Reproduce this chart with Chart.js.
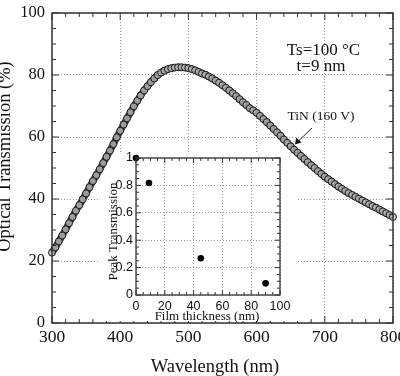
<!DOCTYPE html>
<html><head><meta charset="utf-8">
<script src="https://cdn.jsdelivr.net/npm/chart.js@4.4.1/dist/chart.umd.min.js"></script>
<style>
html,body{margin:0;padding:0;background:#fff;}
#wrap{position:relative;width:400px;height:376px;overflow:hidden;background:#fff;}
#main{position:absolute;left:0;top:0;}
#inset{position:absolute;left:100px;top:150px;}
</style></head><body>
<div id="wrap"><canvas id="main" width="400" height="376"></canvas><canvas id="inset" width="200" height="175"></canvas></div>
<script>
// ---- main chart data ----
const wavelength = [300,305,310,315,320,325,330,335,340,345,350,355,360,365,370,375,380,385,390,395,
  400,405,410,415,420,425,430,435,440,445,450,455,460,465,470,475,480,485,490,495,
  500,505,510,515,520,525,530,535,540,545,550,555,560,565,570,575,580,585,590,595,
  600,605,610,615,620,625,630,635,640,645,650,655,660,665,670,675,680,685,690,695,
  700,705,710,715,720,725,730,735,740,745,750,755,760,765,770,775,780,785,790,795,800];
const transmission = [22.7,24.4,26.3,28.2,30.2,32.2,34.2,36.2,38.0,39.9,41.8,43.8,45.8,47.7,49.6,51.6,53.6,55.6,57.7,59.9,
  62.0,64.0,66.0,68.0,69.9,71.7,73.4,75.0,76.4,77.7,78.9,80.0,80.8,81.4,81.9,82.2,82.4,82.5,82.5,82.4,
  82.2,81.9,81.5,81.0,80.5,80.1,79.5,78.9,78.2,77.5,76.7,75.9,75.0,74.1,73.2,72.2,71.2,70.3,69.3,68.6,
  67.8,66.8,65.8,64.8,63.7,62.6,61.5,60.4,59.2,58.1,57.0,55.9,54.9,53.9,52.9,51.9,50.9,50.0,49.0,48.1,
  47.2,46.4,45.6,44.8,44.0,43.3,42.6,41.9,41.3,40.7,40.1,39.5,38.9,38.3,37.7,37.2,36.6,36.0,35.4,34.8,34.2];
const mainXTicks = [300,400,500,600,700,800];
const mainYTicks = [0,20,40,60,80,100];

// ---- inset data ----
const filmThickness = [0, 9, 45, 90];
const peakTransmission = [1.0, 0.817, 0.268, 0.085];
const insetXTicks = [0,20,40,60,80,100];
const insetYTicks = [0,0.2,0.4,0.6,0.8,1];

const serif = '"Liberation Serif","Times New Roman",serif';
const sans = '"Liberation Sans",Arial,sans-serif';

function noPad(s){ s.paddingLeft = 0; s.paddingRight = 0; s.paddingTop = 0; s.paddingBottom = 0; }

function frameTicks(o){
  return {id:'frameTicks', afterDatasetsDraw(chart){
    const {ctx, chartArea:a, scales:{x,y}} = chart;
    ctx.save();
    ctx.strokeStyle = o.color; ctx.lineWidth = o.tickWidth;
    ctx.beginPath();
    const nx = Math.round((x.max-x.min)/o.xMinor);
    for(let i=0;i<=nx;i++){
      const v = x.min + i*o.xMinor; const px = x.getPixelForValue(v);
      const L = (i % o.xEvery === 0) ? o.major : o.minor;
      ctx.moveTo(px,a.bottom); ctx.lineTo(px,a.bottom-L);
      ctx.moveTo(px,a.top); ctx.lineTo(px,a.top+L);
    }
    const ny = Math.round((y.max-y.min)/o.yMinor);
    for(let i=0;i<=ny;i++){
      const v = y.min + i*o.yMinor; const py = y.getPixelForValue(v);
      const L = (i % o.yEvery === 0) ? o.major : o.minor;
      ctx.moveTo(a.left,py); ctx.lineTo(a.left+L,py);
      ctx.moveTo(a.right,py); ctx.lineTo(a.right-L,py);
    }
    ctx.stroke();
    ctx.lineWidth = o.frameWidth;
    ctx.strokeRect(a.left,a.top,a.right-a.left,a.bottom-a.top);
    ctx.restore();
  }};
}

const mainText = {id:'mainText', afterDraw(chart){
  const ctx = chart.ctx;
  ctx.save();
  ctx.fillStyle = '#111';
  ctx.save();
  ctx.translate(9.5,156.5); ctx.rotate(-Math.PI/2);
  ctx.font = '18.5px '+serif; ctx.textAlign='center'; ctx.textBaseline='alphabetic';
  ctx.fillText('Optical Transmission (%)',0,0);
  ctx.restore();
  ctx.textAlign='center'; ctx.textBaseline='alphabetic';
  ctx.font = '18.5px '+serif;
  ctx.fillText('Wavelength (nm)',215,372);
  ctx.font = '17px '+serif;
  ctx.fillText('Ts=100 \u00B0C',323.5,55);
  ctx.fillText('t=9 nm',321,70.5);
  ctx.font = '13.5px '+serif;
  ctx.fillText('TiN (160 V)',321,120);
  ctx.strokeStyle='#222'; ctx.lineWidth=1;
  ctx.beginPath(); ctx.moveTo(312,128); ctx.lineTo(298,141.5); ctx.stroke();
  ctx.beginPath(); ctx.moveTo(295,144.5); ctx.lineTo(296.2,137.6); ctx.lineTo(301.6,142.6); ctx.closePath(); ctx.fill();
  ctx.restore();
}};

const curvePts = wavelength.map((w,i)=>({x:w,y:transmission[i]}));
new Chart(document.getElementById('main'), {
  type:'scatter',
  data:{datasets:[
    {data: curvePts, pointRadius:3.5, pointStyle:'circle', borderColor:'#1a1a1a', backgroundColor:'rgba(190,190,190,0.75)',
     borderWidth:1, showLine:false, clip:false, order:1},
    {data: curvePts, pointRadius:0, showLine:true, borderColor:'#3a3a3a', borderWidth:7, tension:0.3, clip:false, order:2}
  ]},
  options:{responsive:false, animation:false, devicePixelRatio:1, events:[],
    plugins:{legend:{display:false}, tooltip:{enabled:false}},
    layout:{padding:{top:13,right:7,left:0,bottom:0}},
    scales:{
      x:{type:'linear', min:300, max:800,
        afterBuildTicks(s){ s.ticks = mainXTicks.map(v=>({value:v})); },
        ticks:{font:{family:serif,size:17.5,lineHeight:1}, color:'#111', padding:6, maxRotation:0, autoSkip:false},
        grid:{drawTicks:false, color:'#9a9a9a', lineWidth:1},
        border:{display:false, dash:[1,2]},
        afterFit(s){ s.height = 53; noPad(s); }},
      y:{type:'linear', min:0, max:100,
        afterBuildTicks(s){ s.ticks = mainYTicks.map(v=>({value:v})); },
        ticks:{font:{family:serif,size:16.5,lineHeight:1}, color:'#111', padding:7, autoSkip:false},
        grid:{drawTicks:false, color:'#9a9a9a', lineWidth:1},
        border:{display:false, dash:[1,2]},
        afterFit(s){ s.width = 52; noPad(s); }}
    }},
  plugins:[frameTicks({color:'#333', tickWidth:1, frameWidth:1.5, major:7, minor:4, xMinor:20, xEvery:5, yMinor:5, yEvery:4}), mainText]
});

const insetBg = {id:'insetBg', beforeDraw(chart){
  const ctx = chart.ctx;
  ctx.save(); ctx.fillStyle='#fff';
  ctx.fillRect(16,3,166,168);
  ctx.fillRect(182,13,16,158);
  ctx.fillRect(0,26,16,145);
  ctx.restore();
}};
const insetText = {id:'insetText', afterDraw(chart){
  const ctx = chart.ctx;
  ctx.save(); ctx.fillStyle='#111';
  ctx.font = '13px '+serif;
  ctx.save(); ctx.translate(16.5,81.5); ctx.rotate(-Math.PI/2);
  ctx.textAlign='center'; ctx.textBaseline='alphabetic';
  ctx.fillText('Peak Transmission',0,0); ctx.restore();
  ctx.textAlign='center'; ctx.textBaseline='alphabetic';
  ctx.fillText('Film thickness (nm)',107,170);
  ctx.restore();
}};

new Chart(document.getElementById('inset'), {
  type:'scatter',
  data:{datasets:[{data: filmThickness.map((t,i)=>({x:t,y:peakTransmission[i]})),
    pointRadius:3.3, pointStyle:'circle', borderColor:'#000', backgroundColor:'#000', borderWidth:0, clip:false}]},
  options:{responsive:false, animation:false, devicePixelRatio:1, events:[],
    plugins:{legend:{display:false}, tooltip:{enabled:false}},
    layout:{padding:{top:8,right:20,left:0,bottom:0}},
    scales:{
      x:{type:'linear', min:0, max:100,
        afterBuildTicks(s){ s.ticks = insetXTicks.map(v=>({value:v})); },
        ticks:{font:{family:sans,size:12.5,lineHeight:1}, color:'#111', padding:5, maxRotation:0, autoSkip:false},
        grid:{drawTicks:false, color:'#9a9a9a', lineWidth:1},
        border:{display:false, dash:[1,2]},
        afterFit(s){ s.height = 30; noPad(s); }},
      y:{type:'linear', min:0, max:1,
        afterBuildTicks(s){ s.ticks = insetYTicks.map(v=>({value:v})); },
        ticks:{font:{family:sans,size:12.5,lineHeight:1}, color:'#111', padding:3, autoSkip:false,
          callback:(v)=>String(v)},
        grid:{drawTicks:false, color:'#9a9a9a', lineWidth:1},
        border:{display:false, dash:[1,2]},
        afterFit(s){ s.width = 36; noPad(s); }}
    }},
  plugins:[insetBg, frameTicks({color:'#333', tickWidth:1, frameWidth:1.3, major:5, minor:3, xMinor:5, xEvery:4, yMinor:0.05, yEvery:4}), insetText]
});
</script>
</body></html>
